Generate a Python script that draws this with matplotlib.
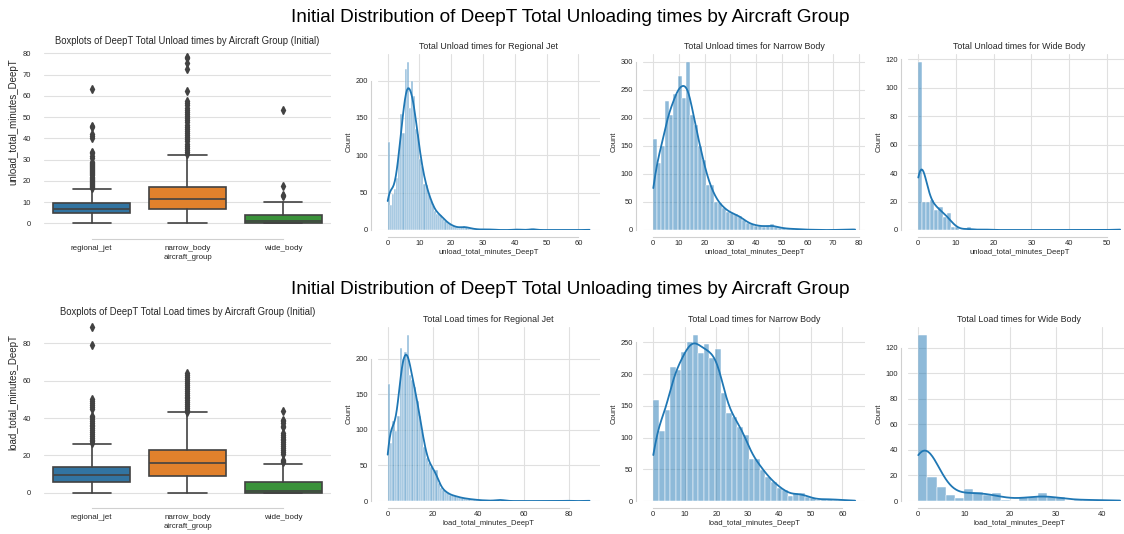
import numpy as np
import matplotlib
matplotlib.use("Agg")
import matplotlib.pyplot as plt
import seaborn as sns

# ---------------- data ----------------
groups = ["regional_jet", "narrow_body", "wide_body"]

# histogram bin ranges (min, max, number of bins) and counts
rj_unload_range = (0.0, 63.5, 96)
rj_unload_counts = [118, 33, 48, 55, 70, 105, 155, 130, 215, 225,
                    163, 200, 180, 135, 128, 95, 85, 62, 60, 48,
                    40, 33, 25, 22, 22, 20, 15, 12, 10, 8,
                    6, 5, 4, 3, 3, 4, 5, 4, 3, 2,
                    2, 1, 1, 1, 0, 1, 1, 1, 0, 1,
                    1, 0, 0, 0, 0, 0, 0, 0, 0, 0,
                    1, 1, 0, 1, 0, 0, 0, 0, 2, 2,
                    0, 0, 0, 0, 0, 0, 0, 0, 0, 0,
                    0, 0, 0, 0, 0, 0, 0, 0, 0, 0,
                    0, 0, 0, 0, 0, 1]

nb_unload_range = (0.0, 78.5, 50)
nb_unload_counts = [163, 120, 150, 230, 205, 243, 275, 236, 300, 205,
                    188, 150, 125, 80, 80, 50, 48, 40, 32, 30,
                    28, 25, 18, 12, 10, 8, 7, 6, 7, 10,
                    5, 4, 3, 2, 2, 2, 1, 1, 0, 1,
                    0, 0, 0, 0, 0, 0, 1, 0, 1, 2]

wb_unload_range = (0.0, 53.5, 50)
wb_unload_counts = [118, 20, 20, 21, 14, 16, 9, 12, 2, 2,
                    0, 0, 2, 0, 0, 0, 1, 0, 0, 0,
                    0, 0, 0, 0, 0, 0, 0, 0, 0, 0,
                    0, 0, 0, 0, 0, 0, 0, 0, 0, 0,
                    0, 0, 0, 0, 0, 0, 0, 0, 0, 1]

rj_load_range = (0.0, 89.0, 85)
rj_load_counts = [165, 82, 113, 98, 120, 215, 200, 210, 234, 178,
                  170, 161, 141, 120, 99, 76, 60, 53, 48, 43,
                  43, 25, 18, 15, 13, 11, 8, 8, 7, 6,
                  5, 4, 4, 3, 3, 2, 2, 2, 1, 1,
                  1, 1, 0, 1, 0, 1, 2, 2, 1, 1,
                  0, 0, 0, 0, 0, 0, 0, 0, 0, 0,
                  0, 0, 0, 0, 0, 0, 0, 0, 0, 0,
                  0, 0, 0, 0, 0, 1, 0, 0, 0, 0,
                  0, 0, 0, 0, 1]

nb_load_range = (0.0, 64.0, 36)
nb_load_counts = [160, 110, 143, 212, 207, 235, 250, 262, 233, 247,
                  225, 240, 170, 139, 133, 117, 104, 66, 66, 49,
                  38, 30, 21, 17, 8, 12, 12, 7, 4, 2,
                  3, 3, 2, 2, 1, 1]

wb_load_range = (0.0, 44.0, 22)
wb_load_counts = [130, 19, 11, 5, 2, 9, 7, 5, 6, 1,
                  0, 3, 3, 6, 3, 3, 0, 1, 1, 1,
                  0, 1]

# boxplot statistics: (whislo, q1, median, q3, whishi)
unload_box = {
    "regional_jet": (0.0, 4.7, 6.75, 9.4, 16.0),
    "narrow_body": (0.0, 6.75, 11.3, 16.9, 32.2),
    "wide_body": (0.0, 0.1, 1.1, 3.9, 9.9),
}
unload_fliers = {
    "regional_jet": [16.5, 17, 17.5, 18, 18.5, 19, 19.5, 20, 20.5, 21, 21.5, 22, 22.5,
                     23, 23.5, 24, 24.5, 25, 25.5, 26, 26.5, 27, 27.5, 28, 28.5, 29,
                     30.5, 31.5, 33, 33.5, 40, 41, 42, 45.5, 46, 63],
    "narrow_body": [32.5, 33.5, 34.5, 35.5, 36.5, 37.5, 38.5, 39.5, 40.5, 41.5, 42.5,
                    43.5, 44.5, 45.5, 46.5, 47.5, 48.5, 49.5, 50.5, 51.5, 52.5, 53.5,
                    54.5, 55.5, 56.5, 57.5, 62.5, 72.5, 75.5, 78, 78.5],
    "wide_body": [13, 13.5, 17.5, 53.5],
}
load_box = {
    "regional_jet": (0.0, 5.9, 9.5, 13.9, 25.9),
    "narrow_body": (0.0, 9.1, 15.7, 22.9, 43.0),
    "wide_body": (0.0, 0.0, 1.1, 5.9, 15.2),
}
load_fliers = {
    "regional_jet": [26.5, 27.5, 28.5, 29.5, 30.5, 31.5, 32.5, 33.5, 34.5, 35.5, 36.5,
                     37.5, 38.5, 39.5, 40.5, 41, 45, 46, 47, 48, 49, 50, 79, 88.5],
    "narrow_body": [43.5, 44.5, 45.5, 46.5, 47.5, 48.5, 49.5, 50.5, 51.5, 52.5, 53.5,
                    54.5, 55.5, 56.5, 57.5, 58.5, 60, 61, 62, 63, 64],
    "wide_body": [16.5, 17, 17.5, 20.5, 22, 23, 24, 25, 26, 27, 28, 29, 30, 31, 32,
                  35, 36, 37.5, 38.5, 39, 44],
}

box_colors = ["#3274a1", "#e1812c", "#3a923a"]
line_gray = "#424242"
hist_color = "#1f77b4"

# ---------------- style ----------------
sns.set_style("whitegrid")
plt.rcParams["font.family"] = ["Liberation Sans", "DejaVu Sans"]
plt.rcParams["grid.color"] = "#e0e0e0"
plt.rcParams["grid.linewidth"] = 0.8
plt.rcParams["axes.edgecolor"] = "#d0d0d0"
plt.rcParams["axes.linewidth"] = 0.8
plt.rcParams["text.color"] = "#262626"
plt.rcParams["axes.labelcolor"] = "#262626"
plt.rcParams["xtick.color"] = "#262626"
plt.rcParams["ytick.color"] = "#262626"

W, H = 1124, 534
fig = plt.figure(figsize=(W / 100, H / 100), dpi=100)


def ax_px(l, t, r, b):
    return fig.add_axes([l / W, 1 - b / H, (r - l) / W, (b - t) / H])


TICK_FS = 5.4
LABEL_FS = 5.5
TITLE_FS = 6.4
BOX_TITLE_FS = 6.85


def draw_hist(ax, rng, counts, title, xlabel):
    edges = np.linspace(rng[0], rng[1], rng[2] + 1)
    centers = (edges[:-1] + edges[1:]) / 2
    data = np.repeat(centers, counts)
    sns.histplot(x=data, bins=edges, kde=True, ax=ax, color=hist_color, alpha=0.5,
                 edgecolor="white", linewidth=0.35,
                 line_kws=dict(linewidth=1.3),
                 kde_kws=dict(cut=3, clip=(edges[0], edges[-1])))
    ax.set_title(title, fontsize=TITLE_FS, pad=3)
    ax.set_xlabel(xlabel, fontsize=LABEL_FS, labelpad=1.5)
    ax.set_ylabel("Count", fontsize=LABEL_FS, labelpad=2)
    ax.tick_params(axis="both", length=0, pad=2.2, labelsize=TICK_FS)
    sns.despine(ax=ax, offset=5, trim=True)


def draw_box(ax, box, fliers, title, ylabel):
    stats = []
    for g in groups:
        lo, q1, med, q3, hi = box[g]
        stats.append(dict(whislo=lo, q1=q1, med=med, q3=q3, whishi=hi,
                          fliers=fliers[g], label=g))
    bp = ax.bxp(stats, positions=[0, 1, 2], widths=0.8, patch_artist=True,
                boxprops=dict(edgecolor=line_gray, linewidth=1.2),
                medianprops=dict(color=line_gray, linewidth=1.2),
                whiskerprops=dict(color=line_gray, linewidth=1.2),
                capprops=dict(color=line_gray, linewidth=1.2),
                flierprops=dict(marker="d", markerfacecolor=line_gray,
                                markeredgecolor=line_gray, markersize=4.0))
    for patch, c in zip(bp["boxes"], box_colors):
        patch.set_facecolor(c)
    ax.set_xlim(-0.5, 2.5)
    ax.set_title(title, fontsize=BOX_TITLE_FS, pad=3)
    ax.set_xlabel("aircraft_group", fontsize=5.7, labelpad=1.5)
    ax.set_ylabel(ylabel, fontsize=7.0, labelpad=2.5)
    ax.yaxis.set_label_coords(-0.088, 0.6)
    ax.grid(axis="x", visible=False)
    ax.tick_params(axis="x", length=0, pad=4.4, labelsize=5.8)
    ax.tick_params(axis="y", length=0, pad=9.2, labelsize=TICK_FS)
    sns.despine(ax=ax, offset=5, trim=True, left=True)


hist_lefts = [377.6, 643.2, 908.2]
hist_w = 222

# ---- top row (unload) ----
ax = ax_px(43.8, 48.2, 331.2, 231.6)
draw_box(ax, unload_box, unload_fliers,
         "Boxplots of DeepT Total Unload times by Aircraft Group (Initial)",
         "unload_total_minutes_DeepT")
top_specs = [(rj_unload_range, rj_unload_counts, "Total Unload times for Regional Jet"),
             (nb_unload_range, nb_unload_counts, "Total Unload times for Narrow Body"),
             (wb_unload_range, wb_unload_counts, "Total Unload times for Wide Body")]
for l, (rng, cnt, ttl) in zip(hist_lefts, top_specs):
    ax = ax_px(l, 53.5, l + hist_w, 230)
    draw_hist(ax, rng, cnt, ttl, "unload_total_minutes_DeepT")

# ---- bottom row (load) ----
ax = ax_px(43.8, 319.2, 331.2, 501)
draw_box(ax, load_box, load_fliers,
         "Boxplots of DeepT Total Load times by Aircraft Group (Initial)",
         "load_total_minutes_DeepT")
bot_specs = [(rj_load_range, rj_load_counts, "Total Load times for Regional Jet"),
             (nb_load_range, nb_load_counts, "Total Load times for Narrow Body"),
             (wb_load_range, wb_load_counts, "Total Load times for Wide Body")]
for l, (rng, cnt, ttl) in zip(hist_lefts, bot_specs):
    ax = ax_px(l, 326.5, l + hist_w, 501)
    draw_hist(ax, rng, cnt, ttl, "load_total_minutes_DeepT")

fig.text(570 / W, 1 - 17 / H,
         "Initial Distribution of DeepT Total Unloading times by Aircraft Group",
         ha="center", va="center", fontsize=13.7, color="black")
fig.text(570 / W, 1 - 290 / H,
         "Initial Distribution of DeepT Total Unloading times by Aircraft Group",
         ha="center", va="center", fontsize=13.7, color="black")

fig.savefig("out.png", dpi=100, facecolor="white")
